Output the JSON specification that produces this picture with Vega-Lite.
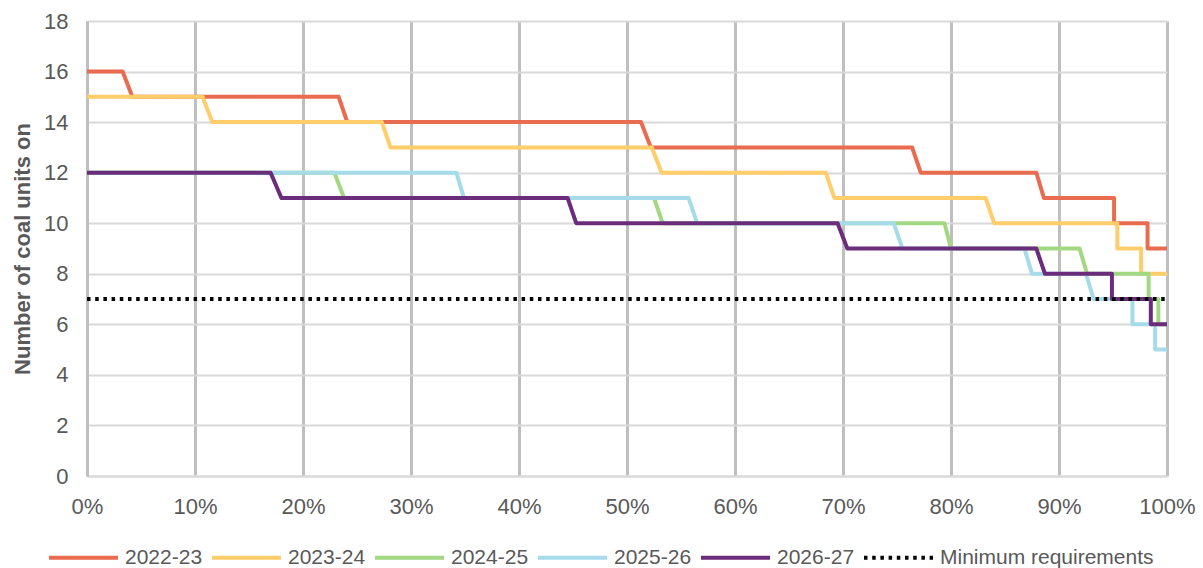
{
  "$schema": "https://vega.github.io/schema/vega-lite/v6.json",
  "width": 1080,
  "height": 455,
  "autosize": {"type": "none"},
  "padding": {"left": 87, "top": 21, "right": 36, "bottom": 92},
  "background": "white",
  "config": {
    "view": {"stroke": null},
    "font": "Liberation Sans",
    "axis": {"labelFont": "Liberation Sans", "titleFont": "Liberation Sans", "labelColor": "#595959", "titleColor": "#595959", "ticks": false}
  },
  "data": {
    "values": [
      {"series": "2022-23", "i": 0, "pct": 0, "units": 16},
      {"series": "2022-23", "i": 1, "pct": 0.033, "units": 16},
      {"series": "2022-23", "i": 2, "pct": 0.042, "units": 15},
      {"series": "2022-23", "i": 3, "pct": 0.233, "units": 15},
      {"series": "2022-23", "i": 4, "pct": 0.241, "units": 14},
      {"series": "2022-23", "i": 5, "pct": 0.513, "units": 14},
      {"series": "2022-23", "i": 6, "pct": 0.522, "units": 13},
      {"series": "2022-23", "i": 7, "pct": 0.764, "units": 13},
      {"series": "2022-23", "i": 8, "pct": 0.772, "units": 12},
      {"series": "2022-23", "i": 9, "pct": 0.879, "units": 12},
      {"series": "2022-23", "i": 10, "pct": 0.886, "units": 11},
      {"series": "2022-23", "i": 11, "pct": 0.951, "units": 11},
      {"series": "2022-23", "i": 12, "pct": 0.951, "units": 10},
      {"series": "2022-23", "i": 13, "pct": 0.982, "units": 10},
      {"series": "2022-23", "i": 14, "pct": 0.982, "units": 9},
      {"series": "2022-23", "i": 15, "pct": 1, "units": 9},

      {"series": "2023-24", "i": 0, "pct": 0, "units": 15},
      {"series": "2023-24", "i": 1, "pct": 0.107, "units": 15},
      {"series": "2023-24", "i": 2, "pct": 0.116, "units": 14},
      {"series": "2023-24", "i": 3, "pct": 0.273, "units": 14},
      {"series": "2023-24", "i": 4, "pct": 0.281, "units": 13},
      {"series": "2023-24", "i": 5, "pct": 0.523, "units": 13},
      {"series": "2023-24", "i": 6, "pct": 0.532, "units": 12},
      {"series": "2023-24", "i": 7, "pct": 0.684, "units": 12},
      {"series": "2023-24", "i": 8, "pct": 0.692, "units": 11},
      {"series": "2023-24", "i": 9, "pct": 0.832, "units": 11},
      {"series": "2023-24", "i": 10, "pct": 0.84, "units": 10},
      {"series": "2023-24", "i": 11, "pct": 0.954, "units": 10},
      {"series": "2023-24", "i": 12, "pct": 0.954, "units": 9},
      {"series": "2023-24", "i": 13, "pct": 0.976, "units": 9},
      {"series": "2023-24", "i": 14, "pct": 0.976, "units": 8},
      {"series": "2023-24", "i": 15, "pct": 1, "units": 8},

      {"series": "2024-25", "i": 0, "pct": 0, "units": 12},
      {"series": "2024-25", "i": 1, "pct": 0.229, "units": 12},
      {"series": "2024-25", "i": 2, "pct": 0.238, "units": 11},
      {"series": "2024-25", "i": 3, "pct": 0.525, "units": 11},
      {"series": "2024-25", "i": 4, "pct": 0.533, "units": 10},
      {"series": "2024-25", "i": 5, "pct": 0.794, "units": 10},
      {"series": "2024-25", "i": 6, "pct": 0.8, "units": 9},
      {"series": "2024-25", "i": 7, "pct": 0.919, "units": 9},
      {"series": "2024-25", "i": 8, "pct": 0.926, "units": 8},
      {"series": "2024-25", "i": 9, "pct": 0.983, "units": 8},
      {"series": "2024-25", "i": 10, "pct": 0.983, "units": 7},
      {"series": "2024-25", "i": 11, "pct": 0.992, "units": 7},
      {"series": "2024-25", "i": 12, "pct": 0.992, "units": 6},
      {"series": "2024-25", "i": 13, "pct": 1, "units": 6},

      {"series": "2025-26", "i": 0, "pct": 0, "units": 12},
      {"series": "2025-26", "i": 1, "pct": 0.342, "units": 12},
      {"series": "2025-26", "i": 2, "pct": 0.349, "units": 11},
      {"series": "2025-26", "i": 3, "pct": 0.557, "units": 11},
      {"series": "2025-26", "i": 4, "pct": 0.565, "units": 10},
      {"series": "2025-26", "i": 5, "pct": 0.747, "units": 10},
      {"series": "2025-26", "i": 6, "pct": 0.755, "units": 9},
      {"series": "2025-26", "i": 7, "pct": 0.868, "units": 9},
      {"series": "2025-26", "i": 8, "pct": 0.875, "units": 8},
      {"series": "2025-26", "i": 9, "pct": 0.925, "units": 8},
      {"series": "2025-26", "i": 10, "pct": 0.932, "units": 7},
      {"series": "2025-26", "i": 11, "pct": 0.968, "units": 7},
      {"series": "2025-26", "i": 12, "pct": 0.968, "units": 6},
      {"series": "2025-26", "i": 13, "pct": 0.989, "units": 6},
      {"series": "2025-26", "i": 14, "pct": 0.989, "units": 5},
      {"series": "2025-26", "i": 15, "pct": 1, "units": 5},

      {"series": "2026-27", "i": 0, "pct": 0, "units": 12},
      {"series": "2026-27", "i": 1, "pct": 0.17, "units": 12},
      {"series": "2026-27", "i": 2, "pct": 0.18, "units": 11},
      {"series": "2026-27", "i": 3, "pct": 0.445, "units": 11},
      {"series": "2026-27", "i": 4, "pct": 0.453, "units": 10},
      {"series": "2026-27", "i": 5, "pct": 0.695, "units": 10},
      {"series": "2026-27", "i": 6, "pct": 0.704, "units": 9},
      {"series": "2026-27", "i": 7, "pct": 0.879, "units": 9},
      {"series": "2026-27", "i": 8, "pct": 0.887, "units": 8},
      {"series": "2026-27", "i": 9, "pct": 0.949, "units": 8},
      {"series": "2026-27", "i": 10, "pct": 0.949, "units": 7},
      {"series": "2026-27", "i": 11, "pct": 0.985, "units": 7},
      {"series": "2026-27", "i": 12, "pct": 0.985, "units": 6},
      {"series": "2026-27", "i": 13, "pct": 1, "units": 6},

      {"series": "Minimum requirements", "i": 0, "pct": 0, "units": 7},
      {"series": "Minimum requirements", "i": 1, "pct": 1, "units": 7}
    ]
  },
  "mark": {"type": "line", "strokeWidth": 4, "strokeCap": "butt", "strokeJoin": "round"},
  "encoding": {
    "x": {
      "field": "pct", "type": "quantitative",
      "scale": {"domain": [0, 1], "nice": false},
      "axis": {
        "title": null, "format": ".0%", "values": [0, 0.1, 0.2, 0.3, 0.4, 0.5, 0.6, 0.7, 0.8, 0.9, 1],
        "labelFontSize": 22, "labelPadding": 20, "labelFlush": false, "labelOverlap": false, "labelBound": false,
        "grid": true, "gridColor": "#BFBFBF", "gridWidth": 3,
        "domainColor": "#D9D9D9", "domainWidth": 2
      }
    },
    "y": {
      "field": "units", "type": "quantitative",
      "scale": {"domain": [0, 18], "nice": false},
      "axis": {
        "title": "Number of coal units on", "titleFontSize": 22, "titleFontWeight": "bold", "titlePadding": 9,
        "values": [0, 2, 4, 6, 8, 10, 12, 14, 16, 18],
        "labelFontSize": 22, "labelPadding": 19, "labelFlush": false,
        "grid": true, "gridColor": "#D9D9D9", "gridWidth": 2,
        "domainColor": "#BFBFBF", "domainWidth": 3
      }
    },
    "order": {"field": "i", "type": "quantitative"},
    "color": {
      "field": "series", "type": "nominal",
      "scale": {
        "domain": ["2022-23", "2023-24", "2024-25", "2025-26", "2026-27", "Minimum requirements"],
        "range": ["#E96B50", "#FFCD69", "#A3D883", "#A6DCE9", "#6B2D7B", "#000000"]
      },
      "legend": {
        "title": null, "orient": "none", "direction": "horizontal",
        "legendX": -40, "legendY": 500,
        "symbolType": "stroke", "symbolSize": 4761, "symbolStrokeWidth": 4,
        "labelFontSize": 21, "labelColor": "#595959", "labelFont": "Liberation Sans", "labelLimit": 400,
        "labelOffset": 5, "columnPadding": 1
      }
    },
    "strokeDash": {
      "field": "series", "type": "nominal",
      "scale": {
        "domain": ["2022-23", "2023-24", "2024-25", "2025-26", "2026-27", "Minimum requirements"],
        "range": [[1, 0], [1, 0], [1, 0], [1, 0], [1, 0], [3.5, 4.7]]
      },
      "legend": {
        "title": null, "orient": "none", "direction": "horizontal",
        "legendX": -40, "legendY": 500,
        "symbolType": "stroke", "symbolSize": 4761, "symbolStrokeWidth": 4,
        "labelFontSize": 21, "labelColor": "#595959", "labelFont": "Liberation Sans", "labelLimit": 400,
        "labelOffset": 5, "columnPadding": 1
      }
    }
  }
}
